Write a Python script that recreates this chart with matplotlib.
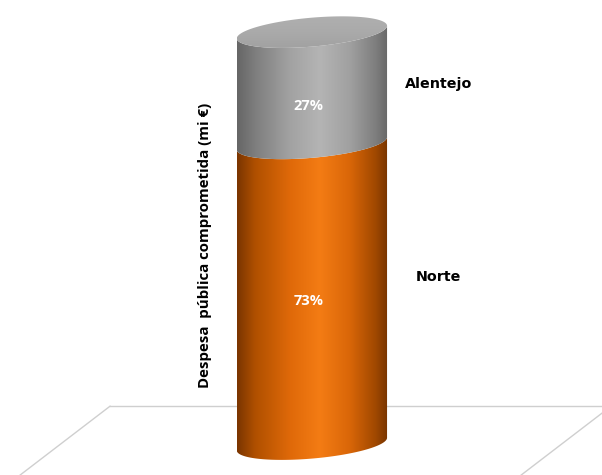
import numpy as np
import matplotlib.pyplot as plt
from matplotlib.path import Path
from matplotlib.patches import PathPatch
from matplotlib.colors import LinearSegmentedColormap

# Dados
regioes = ["Norte", "Alentejo"]
percentagens = [73, 27]
rotulos = ["73%", "27%"]
titulo_y = "Despesa  pública comprometida (mi €)"

# Posição vertical dos nomes das regiões (desvio em relação ao meio do segmento)
desvio_nome = [4.0, 1.0]

# Geometria do cilindro (unidades do eixo: 1 unidade = 1 ponto percentual)
cx = 75.7        # centro horizontal
a = 18.3         # semi-eixo maior da elipse
b = 3.5          # semi-eixo menor da elipse
th = np.radians(5.0)

cores = {
    "Norte": LinearSegmentedColormap.from_list("laranja", [
        (0.0, "#7a3500"), (0.12, "#b05000"), (0.35, "#df6909"),
        (0.55, "#f47c14"), (0.75, "#d96608"), (0.92, "#a04800"), (1.0, "#783500")]),
    "Alentejo": LinearSegmentedColormap.from_list("cinza", [
        (0.0, "#666666"), (0.12, "#7e7e7e"), (0.35, "#a2a2a2"),
        (0.55, "#b4b4b4"), (0.75, "#a0a0a0"), (0.92, "#7e7e7e"), (1.0, "#686868")]),
}
topo_cmap = LinearSegmentedColormap.from_list("topo", ["#a0a0a0", "#aaaaaa", "#b0b0b0"])

t1 = np.arctan(-(b / a) * np.tan(th))
w = np.sqrt((a * np.cos(th)) ** 2 + (b * np.sin(th)) ** 2)


def elipse(cy, t):
    x = a * np.cos(t)
    y = b * np.sin(t)
    return cx + x * np.cos(th) - y * np.sin(th), cy + x * np.sin(th) + y * np.cos(th)


def arco_frente(cy, da_esquerda=True, n=200):
    t = np.linspace(t1 - np.pi, t1, n) if da_esquerda else np.linspace(t1, t1 - np.pi, n)
    return elipse(cy, t)


def gradiente(ax, path, cmap, x0, x1, y0, y1, horizontal=True):
    patch = PathPatch(path, facecolor="none", edgecolor="none", transform=ax.transData)
    ax.add_patch(patch)
    g = np.linspace(0, 1, 256)
    img = g.reshape(1, -1) if horizontal else g.reshape(-1, 1)
    im = ax.imshow(img, cmap=cmap, extent=[x0, x1, y0, y1], origin="lower",
                   aspect="auto", interpolation="bicubic", zorder=3)
    im.set_clip_path(patch)


fig = plt.figure(figsize=(6.02, 4.75), dpi=100)
ax = fig.add_axes([0, 0, 1, 1])
ax.set_xlim(0, 146.1)
ax.set_ylim(-7.5, 107.8)
ax.axis("off")

# Chão (plano em perspetiva)
chao_y = 9.2
chao_baixo = -7.5
dx = 21.8  # deslocamento horizontal da profundidade
ax.plot([26.7, 150], [chao_y, chao_y], color="#cfcfcf", lw=1.0, zorder=1)
ax.plot([26.7, 26.7 - dx], [chao_y, chao_baixo], color="#cfcfcf", lw=1.0, zorder=1)
ax.plot([148.3, 148.3 - dx], [chao_y, chao_baixo], color="#cfcfcf", lw=1.0, zorder=1)

# Segmentos empilhados
base = np.concatenate([[0], np.cumsum(percentagens)])
for i, (reg, val, rot) in enumerate(zip(regioes, percentagens, rotulos)):
    v0, v1 = base[i], base[i + 1]
    xs_top, ys_top = arco_frente(v1, True)
    xs_bot, ys_bot = arco_frente(v0, False)
    verts = np.column_stack([np.concatenate([xs_top, xs_bot]), np.concatenate([ys_top, ys_bot])])
    path = Path(np.vstack([verts, verts[:1]]), closed=True)
    gradiente(ax, path, cores[reg], cx - w, cx + w, v0 - b - 1, v1 + b + 1)

    ym = (v0 + v1) / 2
    ax.text(cx - 0.8, ym * 0.95, rot, color="white", ha="center", va="center",
            fontsize=10.5, fontweight="bold", family="Open Sans", zorder=5)
    ax.text(106.5, ym + desvio_nome[i], reg, color="black", ha="center", va="center",
            fontsize=10.3, fontweight="bold", family="DejaVu Sans", zorder=5)

# Tampa superior
topo = base[-1]
xe, ye = elipse(topo, np.linspace(0, 2 * np.pi, 400))
gradiente(ax, Path(np.column_stack([xe, ye]), closed=True), topo_cmap,
          cx - w, cx + w, topo - b - 1, topo + b + 1, horizontal=False)

# Título do eixo
ax.text(49.8, 48.3, titulo_y, rotation=90, ha="center", va="center",
        fontsize=10.8, fontweight="bold", family="Open Sans", zorder=5)

fig.savefig("out.png", dpi=100)
